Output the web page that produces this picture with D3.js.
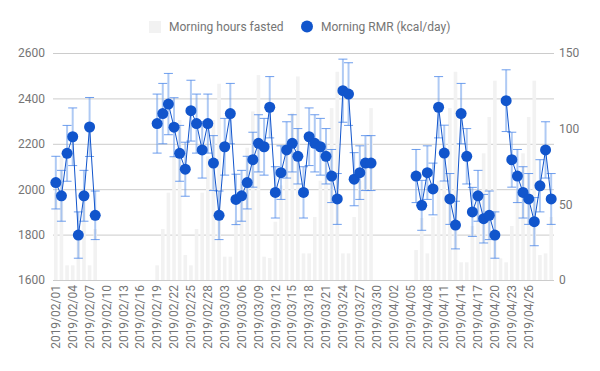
<!DOCTYPE html>
<html><head><meta charset="utf-8">
<script src="https://cdn.jsdelivr.net/npm/d3@7"></script>
<style>
body{margin:0;background:#fff;}
svg{display:block;font-family:Roboto, Arial, sans-serif;}
</style></head><body>
<svg id="chart" width="600" height="371"></svg>
<script>
const dates = [
"2019/02/01","2019/02/02","2019/02/03","2019/02/04","2019/02/05","2019/02/06","2019/02/07","2019/02/08","2019/02/09","2019/02/10",
"2019/02/11","2019/02/12","2019/02/13","2019/02/14","2019/02/15","2019/02/16","2019/02/17","2019/02/18","2019/02/19","2019/02/20",
"2019/02/21","2019/02/22","2019/02/23","2019/02/24","2019/02/25","2019/02/26","2019/02/27","2019/02/28",
"2019/03/01","2019/03/02","2019/03/03","2019/03/04","2019/03/05","2019/03/06","2019/03/07","2019/03/08","2019/03/09","2019/03/10",
"2019/03/11","2019/03/12","2019/03/13","2019/03/14","2019/03/15","2019/03/16","2019/03/17","2019/03/18","2019/03/19","2019/03/20",
"2019/03/21","2019/03/22","2019/03/23","2019/03/24","2019/03/25","2019/03/26","2019/03/27","2019/03/28","2019/03/29","2019/03/30","2019/03/31",
"2019/04/01","2019/04/02","2019/04/03","2019/04/04","2019/04/05","2019/04/06","2019/04/07","2019/04/08","2019/04/09","2019/04/10",
"2019/04/11","2019/04/12","2019/04/13","2019/04/14","2019/04/15","2019/04/16","2019/04/17","2019/04/18","2019/04/19","2019/04/20",
"2019/04/21","2019/04/22","2019/04/23","2019/04/24","2019/04/25","2019/04/26","2019/04/27","2019/04/28","2019/04/29","2019/04/30"
];

const fastedHours = [
57.7,81.7,9.7,9.7,33.7,57.7,9.7,33.7,null,null,
null,null,null,null,null,null,null,null,9.7,33.7,
57.7,81.7,105.7,16.5,9.7,33.7,57.7,81.7,
105.7,129.7,15.4,15.4,39.4,63.4,87.4,111.4,135.4,15.4,
14.5,38.5,62.5,86.5,110.5,134.5,17.6,17.6,41.6,65.6,
89.6,113.6,137.6,17.6,17.6,41.6,65.6,89.6,113.6,null,null,
null,null,null,null,null,19.8,41,17.6,41.6,65.6,
89.6,113.6,137.6,11.7,11.7,35.7,59.7,83.7,107.7,131.7,
14.3,11.7,35.7,59.7,83.7,107.7,131.7,16.5,17.6,41.6
];

const rmr = [
2029,1971,2158,2231,1798,1971,2274,1885,null,null,
null,null,null,null,null,null,null,null,2289,2333,
2375,2273,2158,2088,2346,2289,2173,2289,
2115,1885,2187,2333,1955,1971,2029,2130,2202,2187,
2361,1986,2073,2173,2202,2145,1986,2231,2202,2187,
2145,2058,1957,2434,2419,2044,2073,2115,2115,null,null,
null,null,null,null,null,2058,1929,2073,2001,2361,
2159,1957,1842,2333,2145,1900,1971,1870,1885,1798,
null,2390,2130,2058,1986,1957,1857,2015,2173,1957
];

const rmrErr = [
116,112,123,127,102,112,130,107,null,null,
null,null,null,null,null,null,null,null,130,133,
135,130,123,119,134,130,124,130,
121,107,125,133,111,112,116,121,126,125,
135,113,118,124,126,122,113,127,126,125,
122,117,112,139,138,117,118,121,121,null,null,
null,null,null,null,null,117,110,118,114,135,
123,112,105,133,122,108,112,107,107,102,
null,136,121,117,113,112,106,115,124,112
];

const xTickLabels = ["2019/02/01","2019/02/04","2019/02/07","2019/02/10","2019/02/13","2019/02/16","2019/02/19",
"2019/02/22","2019/02/25","2019/02/28","2019/03/03","2019/03/06","2019/03/09","2019/03/12","2019/03/15",
"2019/03/18","2019/03/21","2019/03/24","2019/03/27","2019/03/30","2019/04/02","2019/04/05","2019/04/08",
"2019/04/11","2019/04/14","2019/04/17","2019/04/20","2019/04/23","2019/04/26"];
const leftTicks = [1600,1800,2000,2200,2400,2600];
const rightTicks = [0,50,100,150];
const seriesNames = ["Morning hours fasted","Morning RMR (kcal/day)"];

const L = 53, R = 554, T = 53, B = 280;
const textColor = "#757575", gridColor = "#cccccc";
const barColor = "#f2f2f2", rmrColor = "#1155cc";
const font = "Roboto, Arial, sans-serif";

const svg = d3.select("#chart");

const x = d3.scaleBand().domain(dates).range([L, R]).paddingInner(0.36).paddingOuter(0.18);
const yL = d3.scaleLinear().domain([1600, 2600]).range([B, T]);
const yR = d3.scaleLinear().domain([0, 150]).range([B, T]);
const cx = d => x(d) + x.bandwidth() / 2;

// left axis + gridlines
const gL = svg.append("g").attr("transform", `translate(${L},0)`)
  .call(d3.axisLeft(yL).tickValues(leftTicks).tickFormat(d3.format("d"))
    .tickSizeInner(-(R - L)).tickSizeOuter(0).tickPadding(8));
gL.select(".domain").remove();
gL.selectAll("line").attr("stroke", gridColor);
gL.selectAll("text").attr("fill", textColor).attr("font-size", 12).attr("font-family", font);

// right axis
const gR = svg.append("g").attr("transform", `translate(${R},0)`)
  .call(d3.axisRight(yR).tickValues(rightTicks).tickFormat(d3.format("d")).tickSize(0).tickPadding(5));
gR.select(".domain").remove();
gR.selectAll("text").attr("fill", textColor).attr("font-size", 12).attr("font-family", font);

// bottom axis
const gB = svg.append("g").attr("transform", `translate(0,${B})`)
  .call(d3.axisBottom(x).tickValues(xTickLabels).tickSize(0));
gB.select(".domain").remove();
gB.selectAll("text")
  .attr("transform", "rotate(-90)")
  .attr("x", -5).attr("y", 0).attr("dy", "0.35em")
  .attr("text-anchor", "end")
  .attr("fill", textColor).attr("font-size", 12).attr("font-family", font);

// bars
const barData = dates.map((d, i) => ({d, v: fastedHours[i]})).filter(o => o.v != null);
svg.append("g").selectAll("rect").data(barData).join("rect")
  .attr("x", o => x(o.d)).attr("width", x.bandwidth())
  .attr("y", o => yR(o.v)).attr("height", o => yR(0) - yR(o.v))
  .attr("fill", barColor);

// error bars
const pts = dates.map((d, i) => ({d, v: rmr[i], e: rmrErr[i]})).filter(o => o.v != null);
const eg = svg.append("g");
pts.forEach(o => {
  const xc = cx(o.d);
  eg.append("line").attr("x1", xc).attr("x2", xc)
    .attr("y1", yL(o.v - o.e)).attr("y2", yL(o.v + o.e))
    .attr("stroke", "#6d9eeb").attr("stroke-width", 2).attr("stroke-opacity", 0.55);
  [o.v - o.e, o.v + o.e].forEach(val => {
    eg.append("line").attr("x1", xc - 4.5).attr("x2", xc + 4.5)
      .attr("y1", yL(val)).attr("y2", yL(val))
      .attr("stroke", "#4a86e8").attr("stroke-width", 1).attr("stroke-opacity", 0.8);
  });
});

// line
const line = d3.line()
  .defined(i => rmr[i] != null)
  .x(i => cx(dates[i])).y(i => yL(rmr[i]));
svg.append("path").datum(d3.range(dates.length))
  .attr("d", line).attr("fill", "none").attr("stroke", rmrColor).attr("stroke-width", 1);

// points
svg.append("g").selectAll("circle").data(pts).join("circle")
  .attr("cx", o => cx(o.d)).attr("cy", o => yL(o.v)).attr("r", 5.5)
  .attr("fill", rmrColor);

// legend
const lg = svg.append("g").attr("font-family", font).attr("font-size", 12).attr("fill", textColor);
lg.append("rect").attr("x", 149).attr("y", 21).attr("width", 12).attr("height", 12).attr("fill", barColor);
lg.append("text").attr("x", 169).attr("y", 31).text(seriesNames[0]);
lg.append("circle").attr("cx", 307).attr("cy", 26.5).attr("r", 6).attr("fill", rmrColor);
lg.append("text").attr("x", 321).attr("y", 31).text(seriesNames[1]);
</script>
</body></html>
